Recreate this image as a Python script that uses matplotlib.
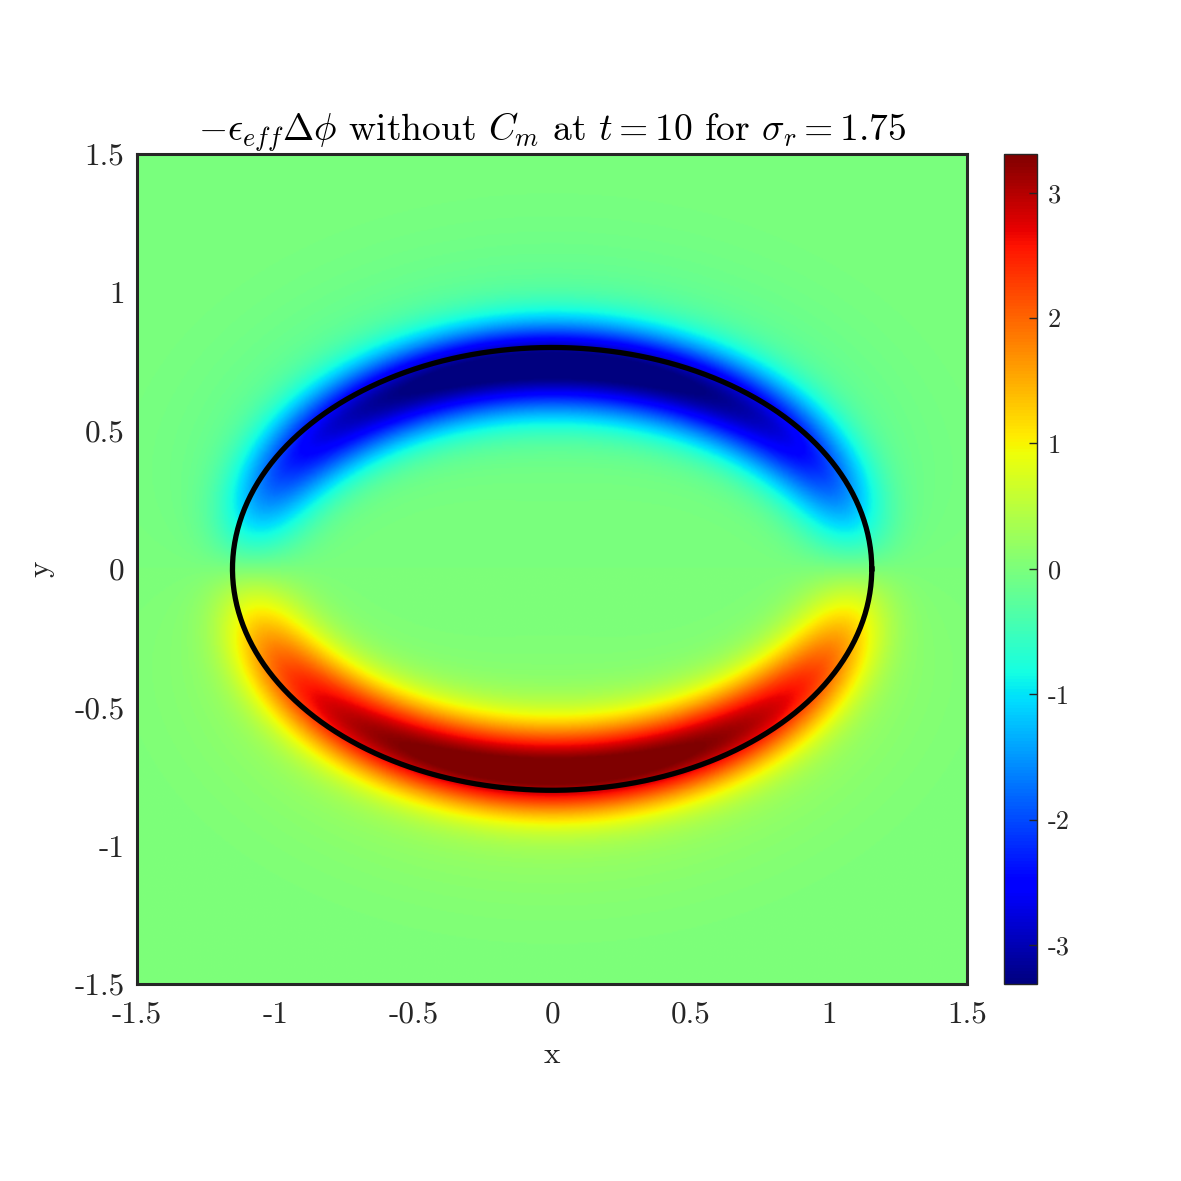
import numpy as np
import matplotlib
matplotlib.use('Agg')
import matplotlib.pyplot as plt

plt.rcParams['font.family'] = 'serif'
plt.rcParams['font.serif'] = ['cmr10']
plt.rcParams['mathtext.fontset'] = 'cm'
plt.rcParams['axes.unicode_minus'] = False

# ellipse (membrane) and field parameters
semi_a = 1.155
semi_b = 0.80
peak = 3.25
band_center = -0.065     # band centre, signed distance from membrane
band_width_in = 0.17
band_width_out = 0.15
haze_amp = 0.10
haze_width = 0.35
clim = [-3.31, 3.31]

xticks = [-1.5, -1, -0.5, 0, 0.5, 1, 1.5]
xticklabels = ['-1.5', '-1', '-0.5', '0', '0.5', '1', '1.5']
yticks = [-1.5, -1, -0.5, 0, 0.5, 1, 1.5]
yticklabels = ['-1.5', '-1', '-0.5', '0', '0.5', '1', '1.5']
cticks = [-3, -2, -1, 0, 1, 2, 3]
cticklabels = ['-3', '-2', '-1', '0', '1', '2', '3']

# grid and field
x = np.linspace(-1.5, 1.5, 601)
y = np.linspace(-1.5, 1.5, 601)
X, Y = np.meshgrid(x, y)
r = np.sqrt((X / semi_a)**2 + (Y / semi_b)**2) + 1e-9
gx = X / semi_a**2 / r
gy = Y / semi_b**2 / r
g = np.sqrt(gx**2 + gy**2) + 1e-9
d = (r - 1) / g
ny = gy / g
prof = np.where(d < band_center,
                np.exp(-((d - band_center) / band_width_in)**2),
                np.exp(-((d - band_center) / band_width_out)**2))
prof = prof + haze_amp * np.exp(-(d / haze_width)**2)
Z = -peak * ny * prof

fig = plt.figure(figsize=(11.81, 11.81), dpi=100)
ax = fig.add_axes([0.116, 0.1668, 0.703, 0.703])
im = ax.imshow(Z, extent=[-1.5, 1.5, -1.5, 1.5], origin='lower', cmap='jet',
               vmin=clim[0], vmax=clim[1], interpolation='bilinear', aspect='auto')

t = np.linspace(0, 2 * np.pi, 400)
ax.plot(semi_a * np.cos(t), semi_b * np.sin(t), color='black', lw=3.8)

ax.set_xlim(-1.5, 1.5)
ax.set_ylim(-1.5, 1.5)
ax.set_xticks(xticks)
ax.set_xticklabels(xticklabels)
ax.set_yticks(yticks)
ax.set_yticklabels(yticklabels)
# ticks are hidden under the image in the original
ax.tick_params(direction='in', length=0, colors='#262626', labelsize=22.5)
ax.tick_params(axis='x', pad=12)
ax.tick_params(axis='y', pad=9)
for s in ax.spines.values():
    s.set_linewidth(2.2)
    s.set_color('#262626')
ax.set_xlabel('x', fontsize=22.5, color='#262626', labelpad=9)
ax.set_ylabel('y', fontsize=22.5, color='#262626', labelpad=14)
ax.set_title(r'$-\epsilon_{eff}\Delta\phi$ without $C_m$ at $t=10$ for $\sigma_r=1.75$',
             fontsize=27, pad=6)

cax = fig.add_axes([0.850, 0.1668, 0.028, 0.703])
cb = fig.colorbar(im, cax=cax)
cb.set_ticks(cticks)
cb.set_ticklabels(cticklabels)
cax.tick_params(direction='in', length=6, width=1, colors='#262626', labelsize=19, pad=8)
cb.outline.set_linewidth(1)
cb.outline.set_color('#262626')

fig.savefig('out.png', dpi=100)
